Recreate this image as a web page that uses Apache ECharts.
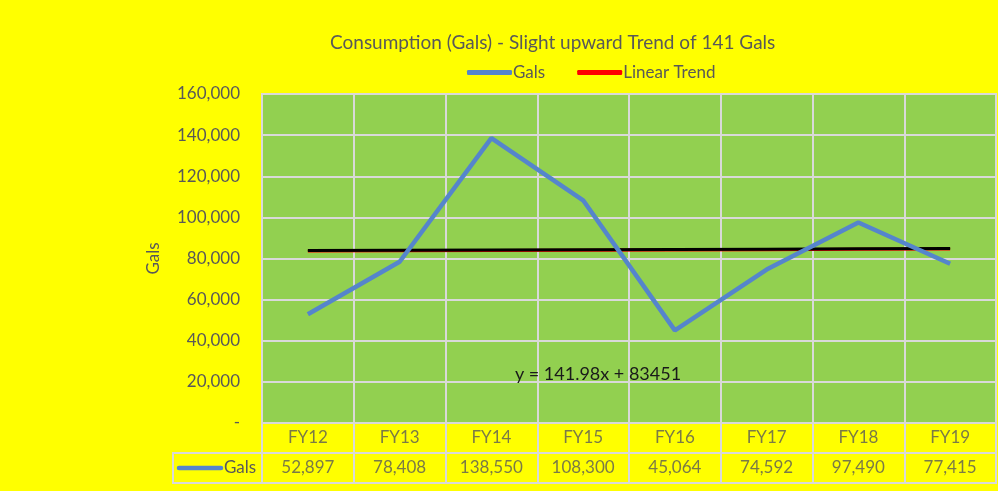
<!DOCTYPE html>
<html>
<head>
<meta charset="utf-8">
<script src="https://cdn.jsdelivr.net/npm/echarts@6/dist/echarts.min.js"></script>
<style>
  html, body { margin: 0; padding: 0; background: #ffff00; }
  #chart { width: 998px; height: 491px; }
</style>
</head>
<body>
<div id="chart"></div>
<script>
// data
var categories = ['FY12', 'FY13', 'FY14', 'FY15', 'FY16', 'FY17', 'FY18', 'FY19']
var gals = [52897, 78408, 138550, 108300, 45064, 74592, 97490, 77415]
// linear trend y = 141.98x + 83451
var trend = [83593, 83735, 83877, 84019, 84161, 84303, 84445, 84587]
var yTicks = [0, 20000, 40000, 60000, 80000, 100000, 120000, 140000, 160000]

var FONT = 'Lato'
var TXT = '#595959'
var GRIDLINE = '#d9d9d9'

function fmt(v) {
  if (v === 0) return '-'
  return v.toString().replace(/\B(?=(\d{3})+(?!\d))/g, ',')
}

var chart = echarts.init(document.getElementById('chart'))

var option = {
  backgroundColor: '#ffff00',
  animation: false,
  textStyle: { fontFamily: FONT },
  title: {
    text: 'Consumption (Gals) - Slight upward Trend of 141 Gals',
    left: 325,
    top: 28,
    textStyle: { fontFamily: FONT, fontSize: 19, fontWeight: 'normal', color: TXT },
  },
  legend: {
    top: 59,
    left: 462,
    itemGap: 32,
    itemWidth: 45,
    itemHeight: 5,
    icon: 'roundRect',
    data: ['Gals', 'Linear Trend'],
    textStyle: { fontFamily: FONT, fontSize: 17, color: TXT, padding: [0, 0, 0, -4] },
  },
  grid: [
    { left: 262, right: 2, top: 94, bottom: 68, show: true, backgroundColor: '#92d050',
      borderColor: GRIDLINE, borderWidth: 2 },
    { left: 262, right: 2, top: 423, bottom: 8, show: true, backgroundColor: '#ffff00',
      borderColor: GRIDLINE, borderWidth: 2 },
  ],
  xAxis: [
    {
      gridIndex: 0,
      type: 'category',
      data: categories,
      boundaryGap: true,
      axisLine: { show: false },
      axisTick: { show: false },
      axisLabel: { show: false },
      splitLine: { show: true, interval: 0, lineStyle: { color: GRIDLINE, width: 2 } },
    },
    {
      gridIndex: 1,
      type: 'category',
      data: categories,
      boundaryGap: true,
      axisLine: { show: false },
      axisTick: { show: false },
      axisLabel: { show: false },
      splitLine: { show: true, interval: 0, lineStyle: { color: GRIDLINE, width: 2 } },
    },
  ],
  yAxis: [
    {
      gridIndex: 0,
      type: 'value',
      min: yTicks[0],
      max: yTicks[yTicks.length - 1],
      interval: 20000,
      name: 'Gals',
      nameLocation: 'middle',
      nameGap: 100,
      nameTextStyle: { fontFamily: FONT, fontSize: 17, color: TXT },
      axisLine: { show: false },
      axisTick: { show: false },
      axisLabel: { formatter: fmt, fontFamily: FONT, fontSize: 17, color: TXT, margin: 22 },
      splitLine: { lineStyle: { color: GRIDLINE, width: 2 } },
    },
    {
      gridIndex: 1,
      type: 'value',
      min: 0,
      max: 2,
      interval: 1,
      axisLine: { show: false },
      axisTick: { show: false },
      axisLabel: { show: false },
      splitLine: { lineStyle: { color: GRIDLINE, width: 2 } },
    },
  ],
  series: [
    {
      name: 'Linear Trend',
      type: 'line',
      data: trend,
      symbol: 'none',
      color: '#ff0000',
      lineStyle: { color: '#ff0000', width: 3 },
      z: 3,
    },
    {
      name: 'trendBlack',
      type: 'line',
      data: trend,
      symbol: 'none',
      lineStyle: { color: '#000000', width: 2, shadowColor: '#000', shadowOffsetY: -1, shadowBlur: 0 },
      z: 4,
    },
    {
      name: 'Gals',
      type: 'line',
      data: gals,
      symbol: 'none',
      color: '#5585cc',
      lineStyle: { color: '#5585cc', width: 4.5 },
      z: 5,
    },
    {
      // data table: category row
      type: 'scatter',
      xAxisIndex: 1,
      yAxisIndex: 1,
      symbolSize: 0,
      data: categories.map(function (c) { return [c, 1.5] }),
      label: {
        show: true,
        position: 'inside',
        formatter: function (p) { return p.value[0] },
        fontFamily: FONT, fontSize: 17, color: TXT,
      },
      silent: true,
    },
    {
      // data table: value row
      type: 'scatter',
      xAxisIndex: 1,
      yAxisIndex: 1,
      symbolSize: 0,
      data: categories.map(function (c, i) { return [c, 0.5, gals[i]] }),
      label: {
        show: true,
        position: 'inside',
        formatter: function (p) { return fmt(p.value[2]) },
        fontFamily: FONT, fontSize: 17, color: TXT,
      },
      silent: true,
    },
  ],
  graphic: [
    {
      type: 'rect',
      shape: { x: 173, y: 453, width: 89, height: 30 },
      style: { fill: 'none', stroke: GRIDLINE, lineWidth: 2 },
    },
    {
      type: 'line',
      shape: { x1: 179, y1: 468, x2: 221, y2: 468 },
      style: { stroke: '#5585cc', lineWidth: 4.5, lineCap: 'round' },
    },
    {
      type: 'text',
      x: 224, y: 468,
      style: { text: 'Gals', fontFamily: FONT, fontSize: 17, fill: TXT, verticalAlign: 'middle' },
    },
    {
      type: 'text',
      x: 598, y: 374,
      style: { text: 'y = 141.98x + 83451', fontFamily: FONT, fontSize: 18, fill: '#1a1a1a',
        align: 'center', verticalAlign: 'middle' },
      z: 10,
    },
  ],
}

chart.setOption(option)
</script>
</body>
</html>
